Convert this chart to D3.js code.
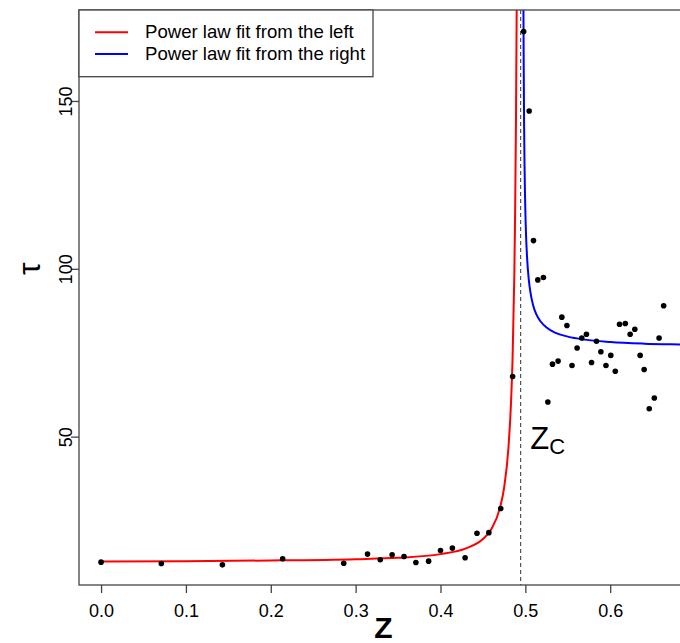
<!DOCTYPE html>
<html>
<head>
<meta charset="utf-8">
<script src="https://cdn.jsdelivr.net/npm/d3@7"></script>
<style>
  body { margin: 0; background: #fff; }
  svg { display: block; font-family: "Liberation Sans", Arial, sans-serif; }
</style>
</head>
<body>
<svg id="graph" width="680" height="643"></svg>
<script>
// measured points (z, tau)
var zPoints = [0.000, 0.071, 0.143, 0.214, 0.286, 0.314, 0.329, 0.343, 0.357, 0.371,
    0.386, 0.400, 0.414, 0.429, 0.443, 0.457, 0.471, 0.485,
    0.498, 0.5045, 0.5096, 0.5147, 0.5213, 0.5265, 0.532, 0.5386, 0.543, 0.549,
    0.555, 0.561, 0.5665, 0.572, 0.578, 0.5838, 0.589, 0.595, 0.6007, 0.606,
    0.611, 0.6178, 0.6235, 0.629, 0.6353, 0.640, 0.646, 0.652, 0.6576, 0.663];
var tauPoints = [12.6, 12.2, 11.8, 13.6, 12.3, 15.0, 13.3, 14.8, 14.3, 12.5,
    12.9, 16.1, 16.8, 13.9, 21.2, 21.4, 28.6, 67.9,
    170.7, 147.0, 108.4, 96.7, 97.4, 60.3, 71.6, 72.5, 85.6, 83.1,
    71.2, 76.4, 79.4, 80.5, 72.1, 78.4, 75.3, 71.2, 74.2, 69.5,
    83.5, 83.7, 80.5, 82.0, 74.2, 70.0, 58.3, 61.5, 79.4, 89.0];

// fit curve: left of the critical point
var leftZ = [0, 0.1, 0.2, 0.3, 0.35, 0.4, 0.43, 0.45, 0.46, 0.47, 0.475, 0.48,
    0.483, 0.485, 0.487, 0.488, 0.489, 0.4898, 0.4902];
var leftTau = [12.8, 12.9, 13.1, 13.5, 13.9, 15.0, 16.7, 19.5, 22.5, 28.7, 34.8, 46.4,
    59.4, 73.9, 98.1, 117.3, 145.1, 177.9, 200];

// fit curve right of the critical point
var rightZ = [0.4977, 0.4978, 0.498, 0.4985, 0.499, 0.4995, 0.500, 0.501, 0.502, 0.504,
    0.506, 0.509, 0.513, 0.518, 0.525, 0.535, 0.55, 0.57, 0.60, 0.64, 0.69, 0.72];
var rightTau = [184, 176, 163.8, 143.8, 131.6, 123.3, 117.2, 108.9, 103.5, 96.9,
    93.0, 89.3, 86.4, 84.3, 82.5, 81.0, 79.8, 78.9, 78.2, 77.7, 77.4, 77.2];

var zc = 0.4945;
var xTicks = [0, 0.1, 0.2, 0.3, 0.4, 0.5, 0.6];
var yTicks = [50, 100, 150];
var legendLabels = ["Power law fit from the left", "Power law fit from the right"];
var legendColors = ["#ff0000", "#0000ff"];

(function () {
    var mLeft = 79, mTop = 10, mRight = 701, mBottom = 585;
    var font = "Liberation Sans, Arial, sans-serif";

    var svg = d3.select("#graph");

    var x = d3.scaleLinear().domain([-0.026, 0.707]).range([mLeft, mRight]),
        y = d3.scaleLinear().domain([5.8, 177.1]).range([mBottom, mTop]);

    svg.append("defs").append("clipPath")
        .attr("id", "plotclip")
        .append("rect")
        .attr("x", mLeft).attr("y", mTop)
        .attr("width", mRight - mLeft).attr("height", mBottom - mTop);

    var plot = svg.append("g").attr("clip-path", "url(#plotclip)");

    // critical point
    plot.append("line")
        .attr("x1", x(zc)).attr("x2", x(zc))
        .attr("y1", mTop).attr("y2", mBottom)
        .attr("stroke", "#333")
        .attr("stroke-width", 1)
        .attr("stroke-dasharray", "4,3");

    var line = d3.line()
        .x(function (d) { return x(d[0]); })
        .y(function (d) { return y(d[1]); })
        .curve(d3.curveMonotoneX);

    plot.append("path")
        .attr("d", line(d3.zip(leftZ, leftTau)))
        .attr("fill", "none")
        .attr("stroke", "#ff0000")
        .attr("stroke-width", 2);

    plot.append("path")
        .attr("d", line(d3.zip(rightZ, rightTau)))
        .attr("fill", "none")
        .attr("stroke", "#0000ff")
        .attr("stroke-width", 2);

    plot.selectAll(".pt")
        .data(d3.zip(zPoints, tauPoints))
        .enter().append("circle")
        .attr("class", "pt")
        .attr("cx", function (d) { return x(d[0]); })
        .attr("cy", function (d) { return y(d[1]); })
        .attr("r", 2.8)
        .attr("fill", "#000");

    // Zc label
    var zcLabel = svg.append("text")
        .attr("x", x(0.5) + 5)
        .attr("y", y(46.3))
        .attr("font-size", 31)
        .attr("fill", "#000");
    zcLabel.append("tspan").text("Z");
    zcLabel.append("tspan").attr("font-size", 22).attr("dy", 5).text("C");

    // box
    svg.append("rect")
        .attr("x", mLeft).attr("y", mTop)
        .attr("width", mRight - mLeft).attr("height", mBottom - mTop)
        .attr("fill", "none")
        .attr("stroke", "#444")
        .attr("stroke-width", 1.3);

    // x axis
    var xAxis = svg.append("g")
        .attr("transform", "translate(0," + mBottom + ")")
        .call(d3.axisBottom(x).tickValues(xTicks).tickFormat(d3.format(".1f"))
            .tickSize(8).tickPadding(11));
    xAxis.select(".domain").remove();
    xAxis.selectAll("line").attr("stroke", "#444").attr("stroke-width", 1.3);
    xAxis.selectAll("text").attr("font-size", 18).attr("fill", "#000")
        .attr("font-family", font);

    // y axis
    var yAxis = svg.append("g")
        .attr("transform", "translate(" + mLeft + ",0)")
        .call(d3.axisLeft(y).tickValues(yTicks).tickSize(8));
    yAxis.select(".domain").remove();
    yAxis.selectAll("line").attr("stroke", "#444").attr("stroke-width", 1.3);
    yAxis.selectAll("text").remove();
    yAxis.selectAll(".tick").append("text")
        .attr("transform", "translate(-7,0) rotate(-90)")
        .attr("text-anchor", "middle")
        .attr("font-size", 18)
        .attr("fill", "#000")
        .attr("font-family", font)
        .text(function (d) { return d; });

    // axis titles
    svg.append("text")
        .attr("x", x(0.3326))
        .attr("y", 638)
        .attr("text-anchor", "middle")
        .attr("font-size", 30)
        .attr("font-weight", "bold")
        .text("Z");

    svg.append("text")
        .attr("transform", "translate(40," + y(100) + ") rotate(-90)")
        .attr("text-anchor", "middle")
        .attr("font-size", 32)
        .text("τ");

    // legend
    var legend = svg.append("g");
    legend.append("rect")
        .attr("x", mLeft).attr("y", mTop)
        .attr("width", 294).attr("height", 66.7)
        .attr("fill", "#fff")
        .attr("stroke", "#444")
        .attr("stroke-width", 1.3);

    legendLabels.forEach(function (label, i) {
        var ly = 32.3 + i * 21.7;
        legend.append("line")
            .attr("x1", 95).attr("x2", 128)
            .attr("y1", ly).attr("y2", ly)
            .attr("stroke", legendColors[i])
            .attr("stroke-width", 2);
        legend.append("text")
            .attr("x", 145).attr("y", ly + 6)
            .attr("font-size", 18.6)
            .text(label);
    });
})();
</script>
</body>
</html>
